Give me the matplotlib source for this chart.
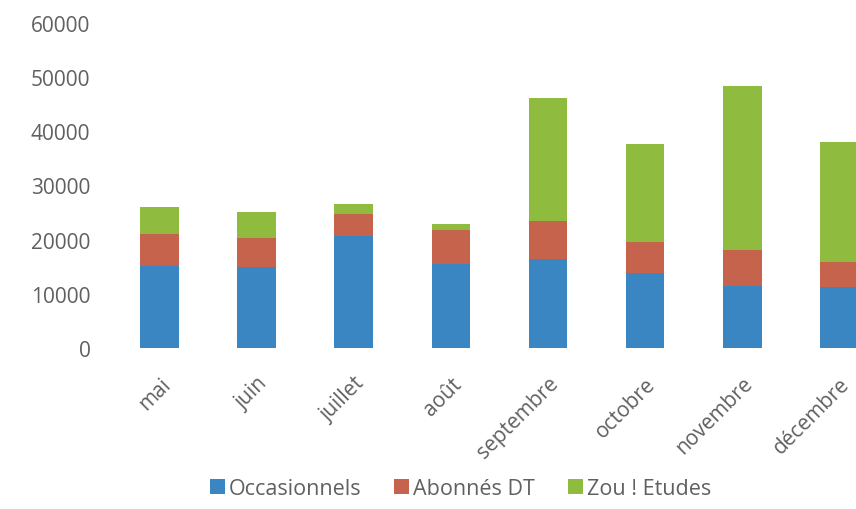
import matplotlib.pyplot as plt
import numpy as np

mois = ["mai", "juin", "juillet", "août", "septembre", "octobre", "novembre", "décembre"]
occasionnels = [15200, 14900, 20700, 15500, 16400, 13800, 11500, 11200]
abonnes_dt = [5800, 5400, 4100, 6300, 7000, 5700, 6600, 4600]
zou_etudes = [5100, 4700, 1800, 1000, 22800, 18100, 30200, 22300]

c_occ = "#3a86c2"
c_abo = "#c6634c"
c_zou = "#8fbb3f"
txt = "#606060"

plt.rcParams['font.family'] = ['Open Sans', 'DejaVu Sans']

fig = plt.figure(figsize=(8.56, 5.10), dpi=100)
ax = fig.add_axes([0.130, 0.316, 0.907, 0.637])

x = np.arange(len(mois))
occ = np.array(occasionnels)
abo = np.array(abonnes_dt)
zou = np.array(zou_etudes)
w = 0.4
ax.bar(x, occ, w, color=c_occ, label="Occasionnels")
ax.bar(x, abo, w, bottom=occ, color=c_abo, label="Abonnés DT")
ax.bar(x, zou, w, bottom=occ + abo, color=c_zou, label="Zou ! Etudes")

ax.set_xlim(-0.5, len(mois) - 0.5)
ax.set_ylim(0, 60000)
ax.set_yticks(range(0, 60001, 10000))
ax.set_xticks(x)
ax.set_xticklabels(mois, rotation=45, ha='right', rotation_mode='anchor')
ax.tick_params(axis='both', length=0, labelsize=15, colors=txt)
ax.tick_params(axis='y', pad=15)
ax.tick_params(axis='x', pad=18)
for s in ax.spines.values():
    s.set_visible(False)

fig.legend(loc='center', bbox_to_anchor=(0.538, 0.04), ncol=3, frameon=False,
           fontsize=15.5, labelcolor=txt, handlelength=0.7, handleheight=0.7,
           handletextpad=0.2, columnspacing=1.5, borderaxespad=0)

fig.savefig("out.png", dpi=100)
